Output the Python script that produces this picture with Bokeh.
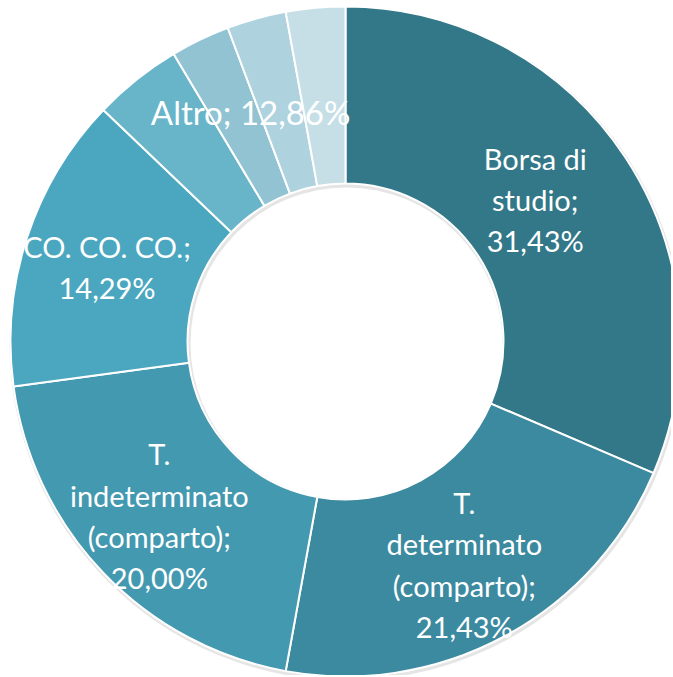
import numpy as np
from bokeh.plotting import figure
from bokeh.models import Range1d, ColumnDataSource
from bokeh.embed import file_html
from bokeh.resources import INLINE
from bokeh.core.properties import value

# ---- data ----
categories = ["Borsa di studio", "T. determinato (comparto)", "T. indeterminato (comparto)",
              "CO. CO. CO.", "Altro a", "Altro b", "Altro c", "Altro d"]
counts = [22, 15, 14, 10, 3, 2, 2, 2]
colors = ["#327889", "#3b8a9f", "#4399b0", "#4aa7bf", "#68b4c9", "#92c3d3", "#aed2de", "#c6dfe7"]
label_texts = ["Borsa di\nstudio;\n31,43%", "T.\ndeterminato\n(comparto);\n21,43%",
               "T.\nindeterminato\n(comparto);\n20,00%", "CO. CO. CO.;\n14,29%", "Altro; 12,86%"]
label_groups = [[0], [1], [2], [3], [4, 5, 6, 7]]

# ---- geometry ----
W, H = 671, 675
cx, cy = 345, H - 341
r_out, r_in = 335, 158

vals = np.array(counts, dtype=float)
frac = vals / vals.sum()
cum = np.concatenate([[0], np.cumsum(frac)])
start = np.pi / 2 - 2 * np.pi * cum[:-1]
end = np.pi / 2 - 2 * np.pi * cum[1:]

src = ColumnDataSource(dict(x=[cx] * len(vals), y=[cy] * len(vals),
                            start=start, end=end, color=colors, cat=categories))

p = figure(width=W, height=H, output_backend="svg", toolbar_location=None,
           x_range=Range1d(0, W), y_range=Range1d(0, H), min_border=0)
p.axis.visible = False
p.grid.visible = False
p.outline_line_color = None
p.background_fill_color = "white"
p.border_fill_color = "white"

# soft shadow
p.annular_wedge(x=cx + 1, y=cy - 2, inner_radius=r_in - 2, outer_radius=r_out + 2,
                start_angle=0, end_angle=2 * np.pi, fill_color="#000000", fill_alpha=0.10,
                line_color=None)

p.annular_wedge(x="x", y="y", inner_radius=r_in, outer_radius=r_out,
                start_angle="start", end_angle="end", direction="clock",
                fill_color="color", line_color="white", line_width=2, source=src)

# labels
r_mid = (r_out + r_in) / 2
nudge = [(-16, 6), (2, -6), (-8, -4), (-4, -2), (2, 3)]
sizes = ["29px", "29px", "29px", "29px", "33px"]
lx, ly = [], []
for g, (dx, dy) in zip(label_groups, nudge):
    m = (cum[g[0]] + cum[g[-1] + 1]) / 2
    a = np.pi / 2 - 2 * np.pi * m
    lx.append(cx + r_mid * np.cos(a) + dx)
    ly.append(cy + r_mid * np.sin(a) + dy)

lsrc = ColumnDataSource(dict(x=lx, y=ly, text=label_texts, size=sizes))
p.text(x="x", y="y", text="text", source=lsrc, text_color="white",
       text_font=value("Lato"), text_font_size="size", text_align="center",
       text_baseline="middle", text_line_height=1.18)

open("out.html", "w").write(file_html(p, INLINE))
